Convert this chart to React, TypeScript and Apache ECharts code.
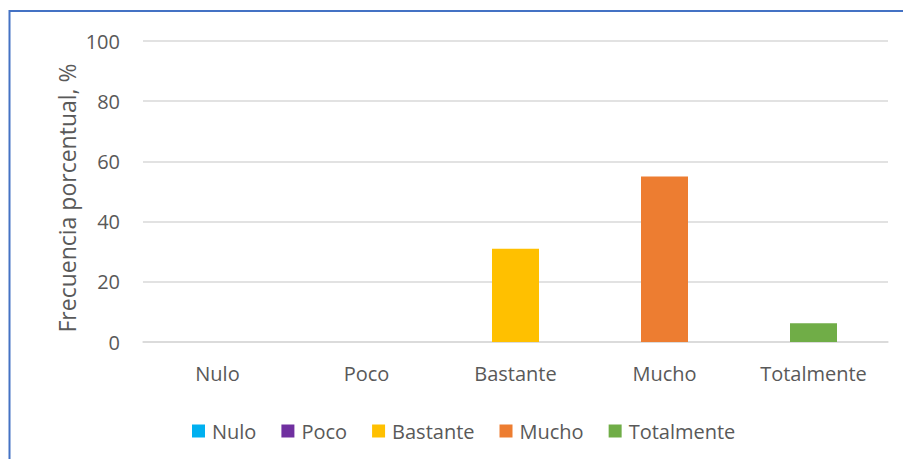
import React, { useEffect, useRef } from "react";
import * as echarts from "echarts";

const categories = ["Nulo", "Poco", "Bastante", "Mucho", "Totalmente"];
const values = [0, 0, 31, 55, 6.2];
const colors = ["#00B0F0", "#7030A0", "#FFC000", "#ED7D31", "#70AD47"];
const yTicks = { min: 0, max: 100, interval: 20 };
const yTitle = "Frecuencia porcentual, %";

const FONT = "'Open Sans', sans-serif";
const TEXT = "#595959";

export default function App() {
  const ref = useRef<HTMLDivElement>(null);
  useEffect(() => {
    if (!ref.current) return;
    const chart = echarts.init(ref.current, undefined, { renderer: "svg" });
    const series = categories.map((c, i) => ({
      name: c,
      type: "bar",
      stack: "all",
      barWidth: 47,
      itemStyle: { color: colors[i] },
      data: categories.map((_, j) => (j === i ? values[i] : "-")),
    }));
    chart.setOption({
      animation: false,
      textStyle: { fontFamily: FONT },
      grid: { left: 143, right: 15, top: 41, bottom: 117 },
      legend: {
        left: 187,
        top: 416,
        itemWidth: 13,
        itemHeight: 13,
        itemGap: 25,
        icon: "rect",
        textStyle: { color: TEXT, fontSize: 20, fontFamily: FONT, padding: [0, 0, 0, 2] },
        data: categories,
      },
      xAxis: {
        type: "category",
        data: categories,
        axisLine: { lineStyle: { color: "#D9D9D9", width: 1.5 } },
        axisTick: { show: false },
        axisLabel: { color: TEXT, fontSize: 20, fontFamily: FONT, margin: 21 },
      },
      yAxis: {
        type: "value",
        min: yTicks.min,
        max: yTicks.max,
        interval: yTicks.interval,
        axisLine: { show: false },
        axisTick: { show: false },
        splitLine: { lineStyle: { color: "#D9D9D9", width: 1.5 } },
        axisLabel: { color: TEXT, fontSize: 20, fontFamily: FONT, margin: 23 },
      },
      graphic: [
        {
          type: "rect",
          shape: { x: 9.5, y: 11, width: 1000, height: 1000 },
          style: { fill: "none", stroke: "#4472C4", lineWidth: 2 },
          silent: true,
        },
        {
          type: "text",
          x: 67,
          y: 198,
          rotation: Math.PI / 2,
          style: {
            text: yTitle,
            fill: TEXT,
            fontSize: 23,
            fontFamily: FONT,
            align: "center",
            verticalAlign: "middle",
          },
        },
      ],
      series,
    });
    return () => chart.dispose();
  }, []);
  return (
    <div
      ref={ref}
      style={{ position: "fixed", left: 0, top: 0, width: 903, height: 459, background: "#fff" }}
    />
  );
}
